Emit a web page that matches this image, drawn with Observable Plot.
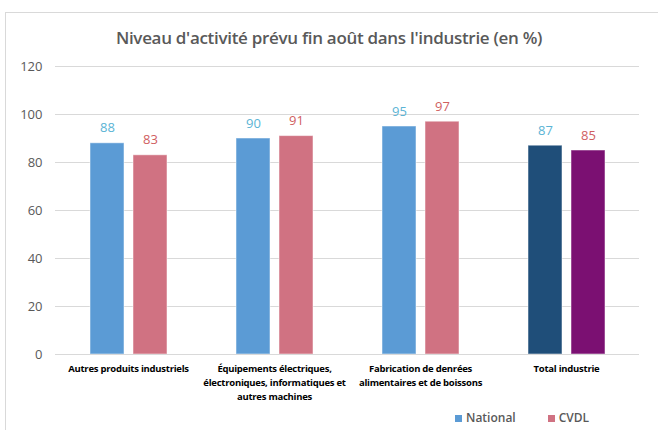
<!DOCTYPE html>
<html><head><meta charset="utf-8">
<script src="https://cdn.jsdelivr.net/npm/d3@7"></script>
<script src="https://cdn.jsdelivr.net/npm/@observablehq/plot@0.6"></script>
<style>
body{margin:0;background:#fff;}
#wrap{position:relative;width:658px;height:430px;overflow:hidden;font-family:"Open Sans",sans-serif;}
#frame{position:absolute;left:5px;top:12px;width:700px;height:500px;border:1px solid #D9D9D9;box-sizing:border-box;}
#title{position:absolute;left:0;width:658px;top:26px;text-align:center;font-size:17px;font-weight:600;color:#595959;letter-spacing:-0.3px;}
#legend{position:absolute;top:409px;left:455px;font-size:12px;font-weight:600;color:#595959;}
#legend span.sw{display:inline-block;width:7px;height:7px;margin-right:4px;vertical-align:0px;}
#chart{position:absolute;left:0;top:0;}
.fxax text{letter-spacing:-0.25px;}
</style></head>
<body><div id="wrap"><div id="frame"></div><div id="title">Niveau d'activité prévu fin août dans l'industrie (en %)</div><div id="chart"></div>
<div id="legend"><span class="sw" style="background:#5B9BD5"></span>National<span style="display:inline-block;width:32px"></span><span class="sw" style="background:#D07282"></span>CVDL</div></div>
<script>
const categories = ["Autres produits industriels", "Équipements électriques, électroniques, informatiques et autres machines", "Fabrication de denrées alimentaires et de boissons", "Total industrie"];
const tickLabels = ["Autres produits industriels", "Équipements électriques,\nélectroniques, informatiques et\nautres machines", "Fabrication de denrées\nalimentaires et de boissons", "Total industrie"];
const series = ["National", "CVDL"];
const national = [88, 90, 95, 87];
const cvdl = [83, 91, 97, 85];
const barColors = {National: ["#5B9BD5", "#5B9BD5", "#5B9BD5", "#1F4E79"], CVDL: ["#D07282", "#D07282", "#D07282", "#7B1072"]};
const labelColors = {National: "#5BB4D5", CVDL: "#D0605F"};

const data = [];
categories.forEach((c, i) => {
  data.push({cat: c, s: "National", v: national[i], fill: barColors.National[i], lc: labelColors.National});
  data.push({cat: c, s: "CVDL", v: cvdl[i], fill: barColors.CVDL[i], lc: labelColors.CVDL});
});
const tickMap = new Map(categories.map((c, i) => [c, tickLabels[i]]));

const chart = Plot.plot({
  width: 658, height: 430,
  marginLeft: 53, marginRight: 18, marginTop: 66, marginBottom: 76,
  style: {fontFamily: "Open Sans, sans-serif", background: "transparent"},
  fx: {domain: categories, padding: 0, label: null},
  x: {domain: series, paddingInner: 0.22, paddingOuter: 0.8, axis: null},
  y: {domain: [0, 120], label: null},
  marks: [
    Plot.gridY([20, 40, 60, 80, 100, 120], {stroke: "#D9D9D9", strokeOpacity: 1, strokeWidth: 1}),
    Plot.barY(data, {fx: "cat", x: "s", y: "v", fill: d => d.fill, stroke: "#ffffff", strokeOpacity: 0.5, strokeWidth: 1}),
    Plot.ruleY([0], {stroke: "#D9D9D9", strokeWidth: 1}),
    Plot.text(data, {fx: "cat", x: "s", y: "v", text: d => String(d.v), fill: d => d.lc, dy: -15, fontSize: 13, lineAnchor: "middle"}),
    Plot.axisY({ticks: [0, 20, 40, 60, 80, 100, 120], tickSize: 0, tickPadding: 13, fontSize: 13, fill: "#595959", label: null}),
    Plot.axisFx({anchor: "bottom", tickSize: 0, tickPadding: 8, tickFormat: d => tickMap.get(d), fontSize: 9.5, fontWeight: "bold", fill: "#000", lineHeight: 1.47, label: null, className: "fxax"})
  ]
});
document.getElementById("chart").appendChild(chart);
</script></body></html>
